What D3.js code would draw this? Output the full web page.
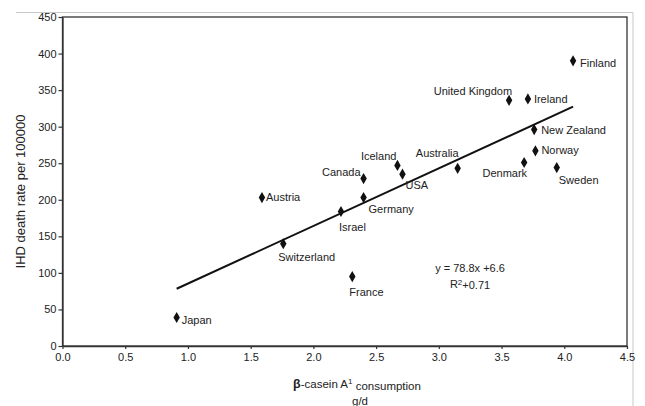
<!DOCTYPE html>
<html>
<head>
<meta charset="utf-8">
<script src="https://cdn.jsdelivr.net/npm/d3@7"></script>
<style>
  body { margin: 0; background: #fff; }
  svg { display: block; }
  text { fill: #222; }
</style>
</head>
<body>
<div id="chart"></div>
<script>
// data
const countries = ["Finland", "Ireland", "United Kingdom", "New Zealand", "Norway", "Denmark",
    "Sweden", "Australia", "Iceland", "USA", "Canada", "Germany", "Israel", "Austria",
    "Switzerland", "France", "Japan"];
const a1Consumption = [4.07, 3.71, 3.56, 3.76, 3.77, 3.68, 3.94, 3.15, 2.67, 2.71, 2.40, 2.40,
    2.22, 1.59, 1.76, 2.31, 0.91];
const ihdRate = [390, 338, 336, 296, 267, 251, 244, 243, 247, 235, 229, 203, 184, 203, 140, 95, 39];
const xTicks = [0, 0.5, 1, 1.5, 2, 2.5, 3, 3.5, 4, 4.5];
const yTicks = [0, 50, 100, 150, 200, 250, 300, 350, 400, 450];
const slope = 78.8, intercept = 6.6;

// where each label sits relative to its point: [anchor, dx, dy]
const labelPlace = {
    "Finland": ["start", 7, 2], "Ireland": ["start", 6, 0], "United Kingdom": ["end", 3, -9],
    "New Zealand": ["start", 7, 1], "Norway": ["start", 6, -1], "Denmark": ["end", 3, 11],
    "Sweden": ["start", 2, 13], "Australia": ["end", 1, -15], "Iceland": ["end", -1, -9],
    "USA": ["start", 3, 11], "Canada": ["end", -3, -6], "Germany": ["start", 5, 12],
    "Israel": ["start", -2, 16], "Austria": ["start", 4, 0], "Switzerland": ["start", -5, 14],
    "France": ["start", -3, 16], "Japan": ["start", 5, 3]
};

const W = 645, H = 406;
const font = "'Liberation Sans', Arial, sans-serif";

const svg = d3.select("#chart").append("svg")
    .attr("width", W)
    .attr("height", H)
    .style("font-family", font);

// scan border lines of the page
svg.append("line").attr("x1", 16).attr("x2", 633).attr("y1", 12.5).attr("y2", 12.5)
    .attr("stroke", "#c8c8c8");
svg.append("line").attr("x1", 633).attr("x2", 633).attr("y1", 12.5).attr("y2", H)
    .attr("stroke", "#c8c8c8");

const x = d3.scaleLinear().domain([0, 4.5]).range([62.5, 627]);
const y = d3.scaleLinear().domain([0, 450]).range([346, 17]);

// plot frame
svg.append("rect")
    .attr("x", x(0)).attr("y", y(450))
    .attr("width", x(4.5) - x(0)).attr("height", y(0) - y(450))
    .attr("fill", "none").attr("stroke", "#333").attr("stroke-width", 1.3);

const xAxis = svg.append("g")
    .attr("transform", `translate(0,${y(0)})`)
    .call(d3.axisBottom(x).tickValues(xTicks).tickFormat(d3.format(".1f"))
        .tickSize(3).tickSizeOuter(0).tickPadding(4));

const yAxis = svg.append("g")
    .attr("transform", `translate(${x(0)},0)`)
    .call(d3.axisLeft(y).tickValues(yTicks).tickSize(4).tickSizeOuter(0).tickPadding(2));

[xAxis, yAxis].forEach(g => {
    g.select(".domain").attr("stroke", "#333").attr("stroke-width", 1.3);
    g.selectAll(".tick line").attr("stroke", "#333").attr("stroke-width", 1.2);
    g.selectAll(".tick text")
        .attr("fill", "#222")
        .style("font-family", font)
        .style("font-size", "11px");
});

// regression line over the range of the data
const xr = d3.extent(a1Consumption);
svg.append("line")
    .attr("x1", x(xr[0])).attr("y1", y(slope * xr[0] + intercept))
    .attr("x2", x(xr[1])).attr("y2", y(slope * xr[1] + intercept))
    .attr("stroke", "#111").attr("stroke-width", 2);

// points
const diamond = d3.symbol().type(d3.symbolDiamond).size(36);
countries.forEach((c, i) => {
    const px = x(a1Consumption[i]), py = y(ihdRate[i]);
    svg.append("path")
        .attr("d", diamond())
        .attr("transform", `translate(${px},${py})`)
        .attr("fill", "#111");

    const p = labelPlace[c];
    svg.append("text")
        .attr("x", px + p[1])
        .attr("y", py + p[2])
        .attr("dy", "0.35em")
        .attr("text-anchor", p[0])
        .style("font-size", "11px")
        .text(c);
});

// equation
const eq = svg.append("g").style("font-size", "11px")
    .attr("text-anchor", "middle");
eq.append("text").attr("x", 470).attr("y", 268).attr("dy", "0.35em")
    .text(`y = ${slope}x +${intercept}`);
const r2 = eq.append("text").attr("x", 470).attr("y", 284).attr("dy", "0.35em");
r2.append("tspan").text("R");
r2.append("tspan").attr("dy", "-0.4em").style("font-size", "8px").text("2");
r2.append("tspan").attr("dy", "0.4em").text("+0.71");

// axis titles
svg.append("text")
    .attr("transform", `translate(20,${(y(0) + y(450)) / 2 + 10}) rotate(-90)`)
    .attr("text-anchor", "middle")
    .attr("dy", "0.35em")
    .style("font-size", "13px")
    .text("IHD death rate per 100000");

const xt = svg.append("text")
    .attr("x", 357).attr("y", 388)
    .attr("text-anchor", "middle")
    .style("font-size", "11.5px");
xt.append("tspan").style("font-weight", "bold").style("font-size", "12.5px").text("β");
xt.append("tspan").text("-casein  A");
xt.append("tspan").attr("dy", "-0.45em").style("font-size", "8px").text("1");
xt.append("tspan").attr("dy", "0.45em").text(" consumption");

svg.append("text")
    .attr("x", 360).attr("y", 405)
    .attr("text-anchor", "middle")
    .style("font-size", "11.5px")
    .text("g/d");
</script>
</body>
</html>
